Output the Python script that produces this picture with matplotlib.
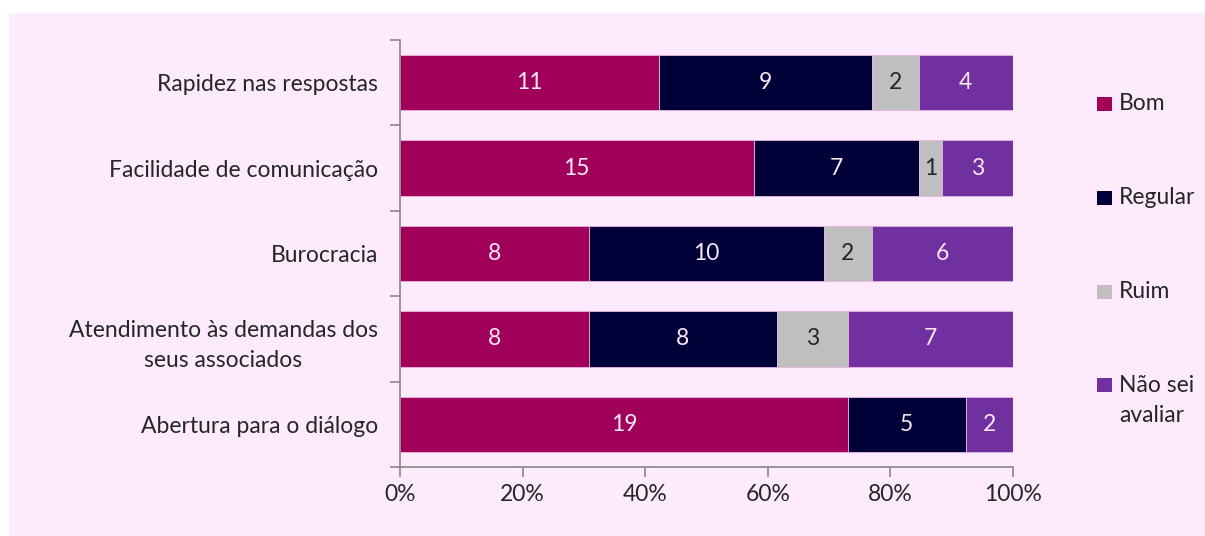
import numpy as np
import matplotlib.pyplot as plt
from matplotlib.patches import Rectangle

# categorias (de cima para baixo) e contagens
categorias = ["Rapidez nas respostas", "Facilidade de comunicação", "Burocracia",
              "Atendimento às demandas dos\nseus associados", "Abertura para o diálogo"]
bom = [11, 15, 8, 8, 19]
regular = [9, 7, 10, 8, 5]
ruim = [2, 1, 2, 3, 0]
nao_sei = [4, 3, 6, 7, 2]

series = ["Bom", "Regular", "Ruim", "Não sei\navaliar"]
cores = ["#A0005A", "#000038", "#BFBFBF", "#7030A0"]
cores_txt = ["#F8E8F4", "#F8E8F4", "#262626", "#F8E8F4"]
xticks_lbl = ["0%", "20%", "40%", "60%", "80%", "100%"]

fundo = "#FDEBFD"
fs = 16.5
plt.rcParams['font.family'] = ['Lato', 'DejaVu Sans']

fig = plt.figure(figsize=(12.05, 5.36), dpi=100)
fig.patch.set_facecolor("white")
# painel rosa
fig.add_artist(Rectangle((9 / 1205, 0), 1, 1 - 13 / 536, transform=fig.transFigure,
                         facecolor=fundo, edgecolor="none", zorder=-10))

ax = fig.add_axes([400 / 1205, 69 / 536, 613 / 1205, 427 / 536])
ax.set_facecolor(fundo)

dados = np.array([bom, regular, ruim, nao_sei], dtype=float)
total = dados.sum(axis=0)
pct = dados / total * 100
y = np.arange(len(categorias))

esq = np.zeros(len(categorias))
for i in range(len(series)):
    ax.barh(y, pct[i], left=esq, height=0.65, color=cores[i],
            edgecolor="#E8B4E0", linewidth=0.6)
    for j in range(len(categorias)):
        if dados[i, j] > 0:
            ax.text(esq[j] + pct[i, j] / 2, y[j], str(int(dados[i, j])),
                    ha="center", va="center", fontsize=fs, color=cores_txt[i])
    esq += pct[i]

ax.set_xlim(0, 100)
ax.set_ylim(len(categorias) - 0.5, -0.5)
ax.set_xticks(np.arange(0, 101, 20))
ax.set_xticklabels(xticks_lbl, fontsize=fs, color="#262626")
ax.set_yticks(y)
ax.set_yticklabels(categorias, fontsize=fs, color="#262626",
                   multialignment="center", linespacing=1.55)
ax.set_yticks(np.arange(-0.5, len(categorias)), minor=True)
ax.tick_params(axis="y", which="major", length=0, pad=16)
ax.tick_params(axis="y", which="minor", length=7, color="#888888", width=1.2)
ax.tick_params(axis="x", length=7, color="#888888", width=1.2, pad=5)
for s in ["top", "right"]:
    ax.spines[s].set_visible(False)
for s in ["left", "bottom"]:
    ax.spines[s].set_color("#888888")
    ax.spines[s].set_linewidth(1.2)

# legenda manual
leg_y = [104, 198, 292, 385]
for nome, cor, yy in zip(series, cores, leg_y):
    fig.add_artist(Rectangle((1097 / 1205, 1 - (yy + 7) / 536), 15 / 1205, 14 / 536,
                             transform=fig.transFigure, facecolor=cor, edgecolor="none"))
    for k, linha in enumerate(nome.split("\n")):
        fig.text(1119 / 1205, 1 - (yy + 30 * k) / 536, linha, fontsize=fs,
                 color="#262626", ha="left", va="center")

fig.savefig("out.png", dpi=100, facecolor="white")
